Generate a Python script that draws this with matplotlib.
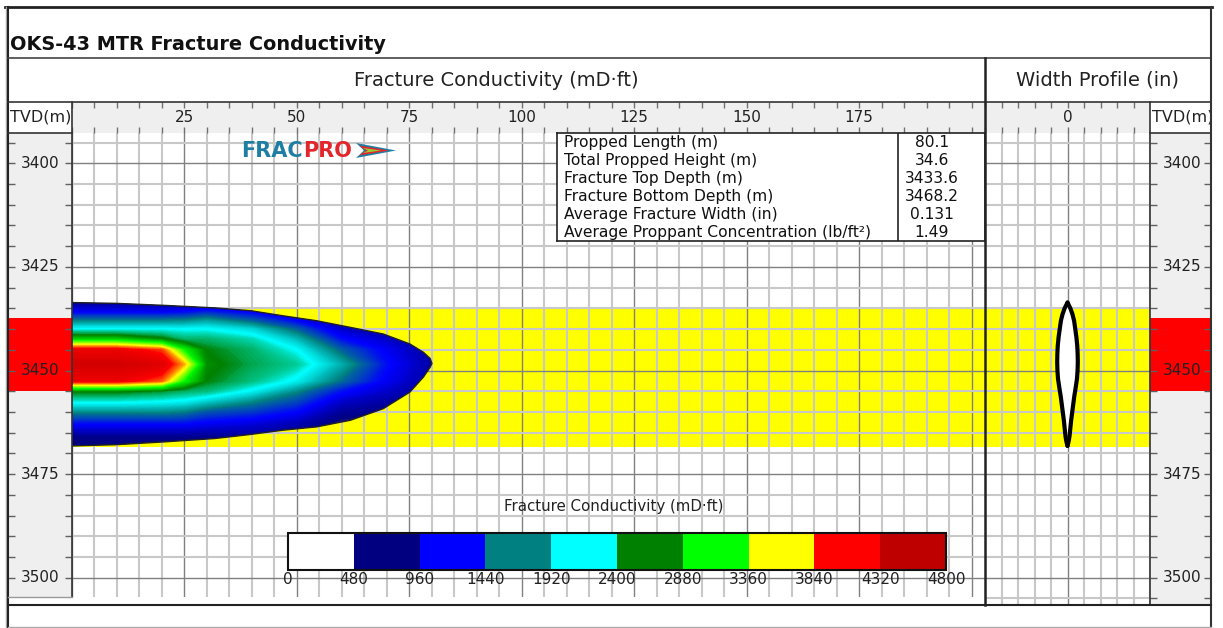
import numpy as np
import matplotlib
matplotlib.use("Agg")
import matplotlib.pyplot as plt
from matplotlib.colors import LinearSegmentedColormap, ListedColormap, BoundaryNorm
from matplotlib.patches import Polygon
from matplotlib.lines import Line2D
from matplotlib.cm import ScalarMappable
from matplotlib.ticker import MultipleLocator

plt.rcParams["font.family"] = ["DejaVu Sans"]

# ---------------- data ----------------
chart_title = "OKS-43 MTR Fracture Conductivity"
panel_title = "Fracture Conductivity (mD·ft)"
width_title = "Width Profile (in)"
depth_label = "TVD(m)"
cbar_title = "Fracture Conductivity (mD·ft)"

length_ticks = [25, 50, 75, 100, 125, 150, 175]
width_ticks = [0]
depth_ticks = [3400, 3425, 3450, 3475, 3500]

table_labels = ["Propped Length (m)", "Total Propped Height (m)", "Fracture Top Depth (m)",
                "Fracture Bottom Depth (m)", "Average Fracture Width (in)",
                "Average Proppant Concentration (lb/ft²)"]
table_values = ["80.1", "34.6", "3433.6", "3468.2", "0.131", "1.49"]

cbar_bounds = [0, 480, 960, 1440, 1920, 2400, 2880, 3360, 3840, 4320, 4800]
cbar_colors = ["#ffffff", "#000080", "#0000ff", "#008080", "#00ffff",
               "#008000", "#00ff00", "#ffff00", "#ff0000", "#bf0000"]

pay_zone = [3435.2, 3468.4]      # yellow layer (m)
perf_zone = [3437.4, 3454.9]     # red interval on TVD tracks (m)

# conductivity field (mD·ft): one list per length (m)
grid_lengths = [0, 10, 20, 25, 30, 40, 50, 60, 70, 81]
grid_depths = [3433.5, 3436, 3438, 3440, 3442.5, 3445, 3448.5,
               3452.5, 3455, 3457.5, 3460, 3463, 3466, 3469]
cond_at_0 = [750, 1200, 1680, 2160, 2950, 4200, 4400, 4200, 2650, 2200, 1700, 1200, 750, 700]
cond_at_10 = [750, 1200, 1680, 2160, 2950, 4200, 4400, 4200, 2650, 2200, 1700, 1200, 750, 700]
cond_at_20 = [750, 1200, 1680, 2160, 2700, 3950, 4320, 3900, 2550, 2150, 1700, 1200, 750, 700]
cond_at_25 = [750, 1250, 1700, 2150, 2450, 3100, 3750, 3100, 2450, 2100, 1650, 1200, 750, 700]
cond_at_30 = [800, 1350, 1800, 2160, 2450, 2620, 2700, 2620, 2400, 1950, 1500, 1130, 750, 700]
cond_at_40 = [700, 1200, 1550, 2000, 2300, 2450, 2500, 2400, 2100, 1700, 1400, 1050, 800, 650]
cond_at_50 = [600, 900, 1200, 1550, 1900, 2160, 2350, 2100, 1700, 1450, 1200, 900, 700, 550]
cond_at_60 = [450, 650, 800, 1000, 1250, 1550, 1850, 1600, 1250, 1000, 800, 650, 550, 450]
cond_at_70 = [400, 550, 700, 850, 1000, 1150, 1250, 1150, 1000, 850, 750, 650, 550, 450]
cond_at_81 = [400, 500, 600, 700, 750, 800, 820, 800, 750, 700, 600, 500, 450, 400]

# propped fracture outline (length m, top depth m, bottom depth m)
outline_len = [0, 10, 21, 32, 40, 47, 54.5, 62, 69.3, 75.2, 78.2, 79.7, 80.1]
outline_top = [3433.6, 3433.8, 3434.3, 3434.9, 3435.6, 3436.8, 3438.0, 3439.6,
               3441.2, 3443.6, 3445.6, 3447.1, 3448.3]
outline_bot = [3468.2, 3467.9, 3467.2, 3466.4, 3465.4, 3464.4, 3463.6, 3462.0,
               3459.2, 3455.2, 3451.6, 3449.2, 3448.3]

# width profile at the wellbore (full width, in)
wp_depth = [3433.6, 3435.0, 3436.4, 3438.0, 3440.4, 3442.0, 3444.0, 3446.0, 3448.0,
            3450.0, 3452.0, 3454.0, 3456.4, 3459.0, 3461.9, 3464.0, 3465.9, 3467.0, 3468.2]
wp_width = [0.0, 0.035, 0.060, 0.080, 0.097, 0.108, 0.118, 0.123, 0.125,
            0.122, 0.115, 0.100, 0.081, 0.064, 0.045, 0.034, 0.024, 0.015, 0.0]

# ---------------- layout helpers ----------------
W, H = 1223, 628
fig = plt.figure(figsize=(W / 100, H / 100), dpi=100)
fig.patch.set_facecolor("white")


def rect(x0, y0, x1, y1):
    return [x0 / W, 1 - y1 / H, (x1 - x0) / W, (y1 - y0) / H]


def px_to_depth(y):
    return 3400 + (y - 163.3) / 4.144


def hline(y, x0, x1, color="#333333", lw=1.2):
    fig.add_artist(Line2D([x0 / W, x1 / W], [1 - y / H, 1 - y / H],
                          transform=fig.transFigure, color=color, lw=lw, zorder=10))


def vline(x, y0, y1, color="#333333", lw=1.2):
    fig.add_artist(Line2D([x / W, x / W], [1 - y0 / H, 1 - y1 / H],
                          transform=fig.transFigure, color=color, lw=lw, zorder=10))


def clean(a):
    for s in a.spines.values():
        s.set_visible(False)


XMAX = (985 - 71.5) / 4.5
MINOR_C, MAJOR_C = "#c8c8c8", "#808080"

# ---------------- main conductivity panel ----------------
ax = fig.add_axes(rect(71.5, 133, 985, 597))
ax.set_xlim(0, XMAX)
ax.set_ylim(px_to_depth(597), px_to_depth(133))
ax.xaxis.set_major_locator(MultipleLocator(25))
ax.xaxis.set_minor_locator(MultipleLocator(5))
ax.yaxis.set_major_locator(MultipleLocator(25))
ax.yaxis.set_minor_locator(MultipleLocator(5))
ax.grid(which="minor", color=MINOR_C, lw=1.5)
ax.grid(which="major", color=MAJOR_C, lw=1.0)
ax.set_axisbelow("line")
ax.tick_params(which="both", length=0, labelbottom=False, labelleft=False)
clean(ax)
ax.axhspan(pay_zone[0], pay_zone[1], color="#ffff00", lw=0, zorder=1)

pos = [0.0] + [(a + b) / 2 / cbar_bounds[-1] for a, b in zip(cbar_bounds[:-1], cbar_bounds[1:])] + [1.0]
cols = ["#ffffff"] + cbar_colors + [cbar_colors[-1]]
smooth_cmap = LinearSegmentedColormap.from_list("cond", list(zip(pos, cols)))

Z = np.array([cond_at_0, cond_at_10, cond_at_20, cond_at_25, cond_at_30,
              cond_at_40, cond_at_50, cond_at_60, cond_at_70, cond_at_81]).T
cs = ax.contourf(grid_lengths, grid_depths, Z, levels=np.linspace(0, 4800, 241),
                 cmap=smooth_cmap, vmin=0, vmax=4800, zorder=2, antialiased=False)
poly_xy = np.column_stack([outline_len + outline_len[::-1], outline_top + outline_bot[::-1]])
outline = Polygon(poly_xy, closed=True, transform=ax.transData, facecolor="none",
                  edgecolor="#222222", lw=1.0, zorder=3)
ax.add_patch(outline)
cs.set_clip_path(outline)

# ---------------- width profile panel ----------------
axw = fig.add_axes(rect(985, 133, 1150, 605))
axw.set_xlim(-0.5, 0.5)
axw.set_ylim(px_to_depth(605), px_to_depth(133))
axw.set_xticks(width_ticks)
axw.xaxis.set_minor_locator(MultipleLocator(0.1))
axw.yaxis.set_major_locator(MultipleLocator(25))
axw.yaxis.set_minor_locator(MultipleLocator(5))
axw.grid(which="minor", color=MINOR_C, lw=1.5)
axw.grid(which="major", color=MAJOR_C, lw=1.0)
axw.set_axisbelow("line")
axw.tick_params(which="both", length=0, labelbottom=False, labelleft=False)
clean(axw)
axw.axhspan(pay_zone[0], pay_zone[1], color="#ffff00", lw=0, zorder=1)
half = np.array(wp_width) / 2
axw.fill_betweenx(wp_depth, -half, half, color="white", lw=0, zorder=2)
axw.plot(-half, wp_depth, color="black", lw=3, zorder=3, solid_capstyle="round", solid_joinstyle="round")
axw.plot(half, wp_depth, color="black", lw=3, zorder=3, solid_capstyle="round", solid_joinstyle="round")

# ---------------- tick rows ----------------
for x0, x1, lim, major, minor, labels in [
        (71.5, 985, (0, XMAX), 25, 5, length_ticks),
        (985, 1150, (-0.5, 0.5), 0.5, 0.1, width_ticks)]:
    at = fig.add_axes(rect(x0, 102, x1, 133))
    at.set_facecolor("#efefef")
    at.set_xlim(*lim)
    at.set_ylim(0, 1)
    at.xaxis.set_major_locator(MultipleLocator(major))
    at.xaxis.set_minor_locator(MultipleLocator(minor))
    at.tick_params(which="both", direction="in", top=True, bottom=True, length=4,
                   width=1, color="#707070", labelbottom=False, left=False, labelleft=False)
    clean(at)
    for v in labels:
        at.text(v, 0.5, str(v), ha="center", va="center", fontsize=11, color="#222222")

# ---------------- TVD tracks ----------------
for x0, x1, y1, xl in [(8, 71.5, 597, 0.5), (1150, 1211, 605, 0.52)]:
    ad = fig.add_axes(rect(x0, 133, x1, y1))
    ad.set_facecolor("#efefef")
    ad.set_xlim(0, 1)
    ad.set_ylim(px_to_depth(y1), px_to_depth(133))
    ad.set_xticks([])
    ad.set_yticks(depth_ticks)
    ad.yaxis.set_minor_locator(MultipleLocator(5))
    ad.tick_params(axis="y", which="both", direction="in", left=True, right=True,
                   length=5, width=1, color="#606060", labelleft=False)
    clean(ad)
    ad.axhspan(perf_zone[0], perf_zone[1], color="#ff0000", lw=0, zorder=1)
    for d in depth_ticks:
        ad.text(xl, d, str(d), ha="center", va="center", fontsize=11, color="#222222", zorder=3)

    ah = fig.add_axes(rect(x0, 102, x1, 133))
    ah.set_facecolor("white")
    ah.set_xticks([])
    ah.set_yticks([])
    clean(ah)
    ah.text(0.03, 0.5, depth_label, transform=ah.transAxes, ha="left", va="center",
            fontsize=11.5, color="#222222", clip_on=True)

# ---------------- info table ----------------
tx0, ty0, tx1, ty1 = 556.7, 132.7, 985, 240.7
axt = fig.add_axes(rect(tx0, ty0, tx1, ty1))
axt.set_xlim(0, 1)
axt.set_ylim(0, 1)
axt.set_xticks([])
axt.set_yticks([])
for s in axt.spines.values():
    s.set_color("#222222")
    s.set_linewidth(1.2)
div = (898.3 - tx0) / (tx1 - tx0)
axt.axvline(div, color="#222222", lw=1.2)
row_px = [142.7, 160.6, 178.6, 196.6, 214.6, 232.6]
for lab, val, yp in zip(table_labels, table_values, row_px):
    yf = 1 - (yp - ty0) / (ty1 - ty0)
    axt.text((563.5 - tx0) / (tx1 - tx0), yf, lab, ha="left", va="center", fontsize=11.2, color="#111111")
    axt.text((931.7 - tx0) / (tx1 - tx0), yf, val, ha="center", va="center", fontsize=11.2, color="#111111")

# ---------------- colorbar ----------------
cax = fig.add_axes(rect(288, 533, 946, 570))
sm = ScalarMappable(norm=BoundaryNorm(cbar_bounds, len(cbar_colors)), cmap=ListedColormap(cbar_colors))
cb = fig.colorbar(sm, cax=cax, orientation="horizontal", ticks=cbar_bounds)
cb.outline.set_linewidth(1.5)
cb.outline.set_edgecolor("#111111")
cax.tick_params(length=0, pad=1.5, labelsize=11, labelcolor="#222222")
cax.set_xticklabels([str(b) for b in cbar_bounds])
fig.text(614 / W, 1 - 506 / H, cbar_title, ha="center", va="center", fontsize=10.8, color="#222222")

# ---------------- logo ----------------
fig.text(241 / W, 1 - 151 / H, "FRAC", fontsize=15, fontweight="bold", color="#1f7fa3", va="center")
fig.text(303 / W, 1 - 151 / H, "PRO", fontsize=15, fontweight="bold", color="#e2262c", va="center")


def fig_poly(pts, color):
    fig.add_artist(Polygon([(x / W, 1 - y / H) for x, y in pts], closed=True,
                           transform=fig.transFigure, facecolor=color, edgecolor="none", zorder=9))


fig_poly([(356, 143), (396, 150.5), (356, 158), (364, 150.5)], "#1f7fa3")
fig_poly([(359, 145.5), (389, 150.5), (359, 155.5), (366, 150.5)], "#e2262c")
fig_poly([(363, 148), (381, 150.5), (363, 153), (368, 150.5)], "#9acd32")

# ---------------- titles ----------------
fig.text(10 / W, 1 - 44 / H, chart_title, fontsize=13.9, fontweight="bold", va="center", color="#111111")
fig.text(496.5 / W, 1 - 80 / H, panel_title, ha="center", va="center", fontsize=14, color="#222222")
fig.text(1098 / W, 1 - 80 / H, width_title, ha="center", va="center", fontsize=14, color="#222222")

# ---------------- frame lines ----------------
hline(7, 5, 1212, "#222222", 2.0)
vline(5.5, 7, 628, "#aaaaaa", 1.0)
vline(8, 7, 628, "#222222", 1.5)
hline(58, 8, 1211, "#444444", 1.2)
hline(102, 8, 1211, "#333333", 1.2)
hline(133, 8, 71.5, "#333333", 1.2)
hline(133, 1150, 1211, "#333333", 1.2)
vline(71.5, 102, 597, "#333333", 1.2)
hline(597, 8, 71.5, "#999999", 1.0)
vline(985, 58, 605, "#222222", 1.8)
vline(1150, 102, 605, "#333333", 1.2)
vline(1211, 7, 628, "#333333", 1.5)
hline(605, 8, 1211, "#222222", 1.5)
hline(627, 8, 1211, "#aaaaaa", 1.0)

fig.savefig("out.png", dpi=100)
